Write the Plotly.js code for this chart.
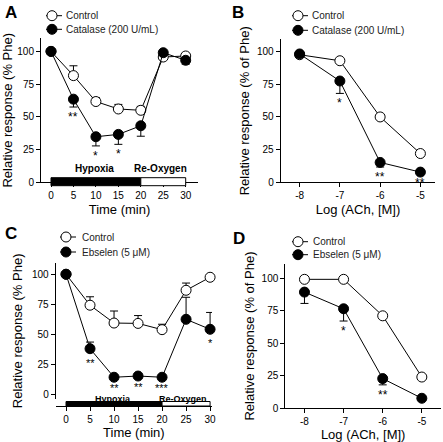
<!DOCTYPE html>
<html><head><meta charset="utf-8">
<script src="https://cdn.plot.ly/plotly-3.0.1.min.js"></script>
<style>html,body{margin:0;padding:0;background:#fff}#chart{width:443px;height:442px}</style>
</head><body><div id="chart"></div>
<script>
// ---------- DATA ----------
const timeMin = [0, 5, 10, 15, 20, 25, 30];
const logACh = [-8, -7, -6, -5];
const logAChLabels = ['-8', '-7', '-6', '-5'];
const yTicks = [0, 25, 50, 75, 100];

// Panel A – time course, Control vs Catalase
const aControl      = [100, 81.5, 61.7, 56, 55, 95.7, 96.5];
const aControlErr   = [0, 7.5, 3, 3.5, 3, 2, 2];
const aCatalase     = [100, 63.5, 34.8, 36.6, 43.2, 99, 93.2];
const aCatalaseErr  = [0, 6, 7, 7.6, 8, 1.5, 3];
const aSig          = ['', '**', '*', '*', '', '', ''];

// Panel B – ACh concentration response, Control vs Catalase
const bControl      = [97.6, 93, 50, 22];
const bCatalase     = [98.2, 77.5, 15.2, 7.8];
const bCatalaseErr  = [0, 9.5, 3.5, 1];
const bSig          = ['', '*', '**', '**'];

// Panel C – time course, Control vs Ebselen
const cControl      = [100, 74.3, 59.5, 59.2, 54, 86.7, 97.5];
const cControlErr   = [0, 7, 10, 6.5, 4.5, 6, 0];
const cEbselen      = [100, 38.2, 14.5, 15.5, 14.5, 62.6, 54.3];
const cEbselenErr   = [0, 5.5, 0, 0, 0, 18.3, 14];
const cSig          = ['', '**', '**', '**', '***', '', '*'];

// Panel D – ACh concentration response, Control vs Ebselen
const dControl      = [99, 99, 71, 24];
const dEbselen      = [89.2, 76.4, 22.8, 7.7];
const dEbselenErr   = [8.7, 9.4, 4.8, 0];
const dSig          = ['', '*', '**', ''];

// Phases
const phaseNames = ['Hypoxia', 'Re-Oxygen'];
const phaseStart = [0, 20];
const phaseEnd   = [20, 30];

const nameControl = 'Control';
const nameCatalase = 'Catalase (200 U/mL)';
const nameEbselen = 'Ebselen (5 \u03BCM)';

// ---------- BUILD ----------
const W = 443, H = 442;
const FONT = 'Liberation Sans, Arial, Helvetica, sans-serif';
const zeros = n => new Array(n).fill(0);

function series(x, y, xa, ya, filled, up, down) {
  return {
    type: 'scatter', mode: 'lines+markers', x: x, y: y, xaxis: xa, yaxis: ya,
    showlegend: false, cliponaxis: false, hoverinfo: 'skip',
    line: {color: 'black', width: 1},
    marker: {size: 10, symbol: 'circle', color: filled ? 'black' : 'white', line: {color: 'black', width: 1}},
    error_y: {type: 'data', symmetric: false, array: up || zeros(x.length), arrayminus: down || zeros(x.length),
              color: 'black', thickness: 1, width: 4, visible: true}
  };
}

const data = [
  series(timeMin, aControl, 'x', 'y', false, aControlErr, null),
  series(timeMin, aCatalase, 'x', 'y', true, null, aCatalaseErr),
  series(logACh, bControl, 'x2', 'y2', false, null, null),
  series(logACh, bCatalase, 'x2', 'y2', true, null, bCatalaseErr),
  series(timeMin, cControl, 'x3', 'y3', false, cControlErr, null),
  series(timeMin, cEbselen, 'x3', 'y3', true, cEbselenErr, null),
  series(logACh, dControl, 'x4', 'y4', false, null, null),
  series(logACh, dEbselen, 'x4', 'y4', true, null, dEbselenErr),
];

const axBase = {
  showline: true, linecolor: 'black', linewidth: 1, mirror: false,
  ticks: 'outside', ticklen: 4, tickwidth: 1, tickcolor: 'black',
  showgrid: false, zeroline: false, fixedrange: true, tickmode: 'array',
  tickfont: {family: FONT, size: 10, color: 'black'}
};
const titleFont = {family: FONT, size: 13, color: 'black'};
function ax(o) { return Object.assign({}, axBase, o); }
const px = v => v / W, py = v => 1 - v / H;

const layout = {
  width: W, height: H, margin: {l: 0, r: 0, t: 0, b: 0},
  paper_bgcolor: 'white', plot_bgcolor: 'rgba(0,0,0,0)', showlegend: false,
  font: {family: FONT, color: 'black'},
  // A
  xaxis: ax({domain: [px(41), px(198)], range: [-2.23, 32.74], anchor: 'y', tickvals: timeMin,
             title: {text: 'Time (min)', font: titleFont, standoff: 4}}),
  yaxis: ax({domain: [py(182.3), py(38.3)], range: [0, 110], anchor: 'x', tickvals: yTicks,
             title: {text: 'Relative response (% Phe)', font: titleFont, standoff: 6}}),
  // B
  xaxis2: ax({domain: [px(280.7), px(435.3)], range: [-8.47, -4.63], anchor: 'y2', tickvals: logACh, ticktext: logAChLabels,
              title: {text: 'Log (ACh, [M])', font: titleFont, standoff: 4}}),
  yaxis2: ax({domain: [py(182.3), py(39.3)], range: [0, 109.4], anchor: 'x2', tickvals: yTicks,
              title: {text: 'Relative response (% of Phe)', font: titleFont, standoff: 4}}),
  // C
  xaxis3: ax({domain: [px(55.7), px(212)], range: [-2.15, 30.4], anchor: 'free', position: py(406), tickvals: timeMin,
              title: {text: 'Time (min)', font: titleFont, standoff: 3}}),
  yaxis3: ax({domain: [py(399), py(262.7)], range: [-3.57, 109.6], anchor: 'x3', tickvals: yTicks,
              title: {text: 'Relative response (% Phe)', font: titleFont, standoff: 6}}),
  // D
  xaxis4: ax({domain: [px(285.3), px(441)], range: [-8.49, -4.51], anchor: 'y4', tickvals: logACh, ticktext: logAChLabels,
              title: {text: 'Log (ACh, [M])', font: titleFont, standoff: 1}}),
  yaxis4: ax({domain: [py(408.3), py(263.7)], range: [0, 111], anchor: 'x4', tickvals: yTicks,
              title: {text: 'Relative response (% of Phe)', font: titleFont, standoff: 4}}),
  shapes: [], annotations: []
};

// phase bars + labels
function phases(xref, yBottom, yTop, labelY, labelSize) {
  phaseNames.forEach((nm, i) => {
    layout.shapes.push({type: 'rect', xref: xref, yref: 'paper', x0: phaseStart[i], x1: phaseEnd[i],
      y0: py(yBottom), y1: py(yTop), fillcolor: i === 0 ? 'black' : 'white', line: {color: 'black', width: 1}, layer: 'above'});
    layout.annotations.push({xref: xref, yref: 'paper', x: (phaseStart[i] + phaseEnd[i]) / 2, y: py(labelY),
      text: '<b>' + nm + '</b>', showarrow: false, xanchor: 'center', yanchor: 'middle', xshift: i === 0 ? -1 : -3,
      font: {family: FONT, size: labelSize, color: 'black'}});
  });
}
phases('x', 185.7, 177.7, 168, 10);
phases('x3', 406, 401.5, 398.6, 9);

// significance stars (placed just below the marker / lower error bar)
function stars(xs, ys, down, sig, xref, yref, size, shifts) {
  sig.forEach((s, i) => {
    if (!s) return;
    const d = down ? down[i] : 0;
    const shift = shifts ? shifts[i] : (d > 0 ? -1 : -5);
    layout.annotations.push({xref: xref, yref: yref, x: xs[i], y: ys[i] - d, text: s, showarrow: false,
      xanchor: 'center', yanchor: 'top', yshift: shift,
      font: {family: FONT, size: size, color: 'black'}});
  });
}
stars(timeMin, aCatalase, aCatalaseErr, aSig, 'x', 'y', 12);
stars(logACh, bCatalase, bCatalaseErr, bSig, 'x2', 'y2', 12);
stars(timeMin, cEbselen, null, cSig, 'x3', 'y3', 11, [0, -6, -3, -3, -3, 0, -6]);
stars(logACh, dEbselen, dEbselenErr, dSig, 'x4', 'y4', 12);

// custom legends
function legendItem(cx, cy, textX, label, filled) {
  layout.shapes.push({type: 'line', xref: 'paper', yref: 'paper', x0: px(cx - 6), x1: px(cx + 10), y0: py(cy), y1: py(cy),
    line: {color: 'black', width: 1}});
  layout.shapes.push({type: 'circle', xref: 'paper', yref: 'paper', xsizemode: 'pixel', ysizemode: 'pixel',
    xanchor: px(cx), yanchor: py(cy), x0: -5, x1: 5, y0: -5, y1: 5,
    fillcolor: filled ? 'black' : 'white', line: {color: 'black', width: 1}});
  layout.annotations.push({xref: 'paper', yref: 'paper', x: px(textX), y: py(cy), text: label, showarrow: false,
    xanchor: 'left', yanchor: 'middle', font: {family: FONT, size: 10, color: '#222'}});
}
legendItem(52, 15.7, 64, nameControl, false);
legendItem(52, 29.3, 64, nameCatalase, true);
legendItem(298, 15.7, 310, nameControl, false);
legendItem(298, 30.3, 310, nameCatalase, true);
legendItem(66, 237, 80, nameControl, false);
legendItem(66, 252, 80, nameEbselen, true);
legendItem(298, 241.7, 311, nameControl, false);
legendItem(298, 254.7, 311, nameEbselen, true);

// panel letters
[['A', 3, 12], ['B', 230, 12], ['C', 3, 233], ['D', 231, 239]].forEach(p => {
  layout.annotations.push({xref: 'paper', yref: 'paper', x: px(p[1]), y: py(p[2]), text: '<b>' + p[0] + '</b>',
    showarrow: false, xanchor: 'left', yanchor: 'middle', font: {family: FONT, size: 17, color: 'black'}});
});

Plotly.newPlot('chart', data, layout, {staticPlot: true, displayModeBar: false});
</script></body></html>
